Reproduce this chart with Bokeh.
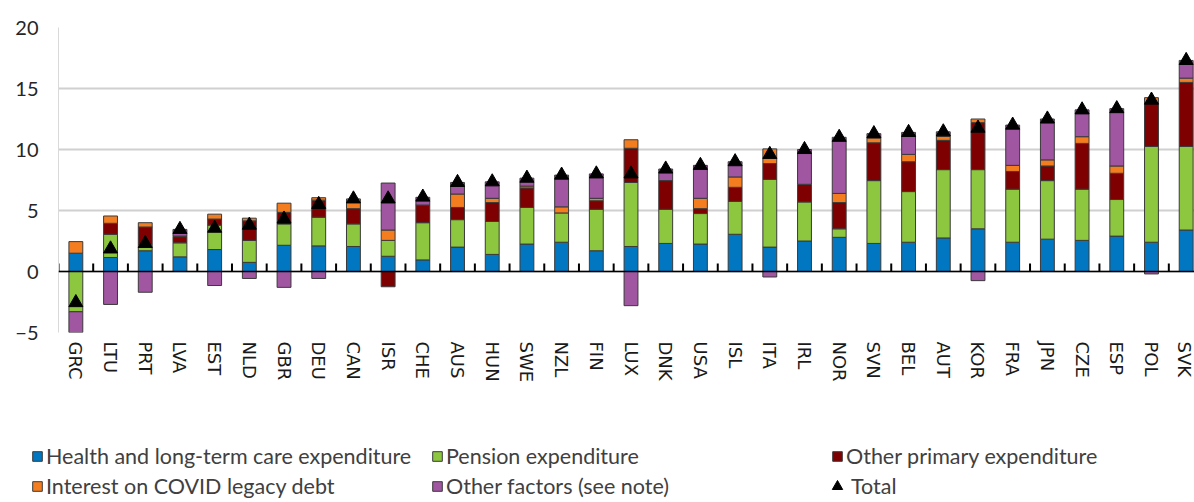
import numpy as np
from bokeh.plotting import figure
from bokeh.layouts import column
from bokeh.models import Range1d, FixedTicker, Legend, LegendItem, ColumnDataSource, Span
from bokeh.embed import file_html
from bokeh.resources import INLINE

countries = ["GRC", "LTU", "PRT", "LVA", "EST", "NLD", "GBR", "DEU", "CAN", "ISR", "CHE",
             "AUS", "HUN", "SWE", "NZL", "FIN", "LUX", "DNK", "USA", "ISL", "ITA", "IRL",
             "NOR", "SVN", "BEL", "AUT", "KOR", "FRA", "JPN", "CZE", "ESP", "POL", "SVK"]

health = [1.5, 1.15, 1.7, 1.2, 1.8, 0.75, 2.15, 2.1, 2.05, 1.25, 0.95,
          2.0, 1.4, 2.25, 2.4, 1.7, 2.05, 2.3, 2.25, 3.05, 2.0, 2.5,
          2.8, 2.3, 2.4, 2.75, 3.5, 2.4, 2.65, 2.55, 2.9, 2.4, 3.4]
pension = [-3.3, 1.9, 0.5, 1.15, 2.0, 1.8, 1.75, 2.35, 1.85, 1.3, 3.05,
           2.25, 2.7, 3.0, 2.4, 3.4, 5.25, 2.8, 2.5, 2.7, 5.55, 3.2,
           0.7, 5.15, 4.15, 5.6, 4.85, 4.35, 4.8, 4.2, 3.0, 7.85, 6.85]
other_primary = [0.0, 0.9, 1.45, 0.5, 0.5, 1.6, 0.95, 1.4, 1.25, -1.25, 1.45,
                 1.0, 1.55, 1.6, 0.0, 0.7, 2.8, 2.35, 0.4, 1.15, 1.3, 1.45,
                 2.15, 3.1, 2.45, 2.4, 3.85, 1.45, 1.2, 3.75, 2.15, 3.55, 5.25]
interest = [0.95, 0.6, 0.35, 0.05, 0.4, 0.22, 0.75, 0.2, 0.8, 0.85, 0.0,
            1.1, 0.35, 0.15, 0.5, 0.2, 0.7, 0.0, 0.85, 0.85, 1.2, 0.0,
            0.75, 0.4, 0.6, 0.35, 0.3, 0.5, 0.5, 0.55, 0.6, 0.45, 0.35]
other_factors = [-1.7, -2.7, -1.7, 0.55, -1.15, -0.57, -1.3, -0.57, 0.0, 3.85, 0.63,
                 0.95, 1.35, 0.65, 2.6, 2.0, -2.8, 0.95, 2.7, 1.25, -0.45, 2.85,
                 4.6, 0.35, 1.8, 0.35, -0.75, 3.3, 3.35, 2.2, 4.7, -0.2, 1.45]
total = [-2.55, 1.85, 2.3, 3.45, 3.55, 3.8, 4.3, 5.5, 5.95, 5.95, 6.1,
         7.3, 7.35, 7.65, 7.9, 8.0, 8.0, 8.4, 8.7, 9.0, 9.6, 10.0,
         11.0, 11.3, 11.4, 11.45, 11.75, 12.0, 12.5, 13.25, 13.35, 14.05, 17.3]

series_names = ["Health and long-term care expenditure", "Pension expenditure",
                "Other primary expenditure", "Interest on COVID legacy debt",
                "Other factors (see note)"]
series_values = [health, pension, other_primary, interest, other_factors]
colors = ["#0077C0", "#8DC63F", "#7F0000", "#F47D20", "#A056A0"]
total_name = "Total"

n = len(countries)
x = np.arange(n)
OUTLINE = "#3a3a3a"

# ---------------- chart ----------------
p = figure(frame_width=1136, frame_height=305,
           x_range=Range1d(-0.5, n - 0.76), y_range=Range1d(-5, 20),
           output_backend="svg", toolbar_location=None,
           min_border_left=58, min_border_right=0, min_border_top=27, min_border_bottom=62,
           background_fill_color="white", border_fill_color="white")
p.frame_align = False
p.outline_line_color = None
p.xgrid.grid_line_color = None
p.ygrid.grid_line_color = "#d0d0d0"
p.ygrid.grid_line_width = 2

pos = np.zeros(n)
neg = np.zeros(n)
for vals, col in zip(series_values, colors):
    v = np.array(vals, dtype=float)
    bottom = np.where(v >= 0, pos, neg)
    top = bottom + v
    pos = np.where(v >= 0, top, pos)
    neg = np.where(v < 0, top, neg)
    m = v != 0
    src = ColumnDataSource(dict(x=x[m], bottom=bottom[m], top=top[m]))
    p.vbar(x="x", bottom="bottom", top="top", width=0.4, source=src,
           fill_color=col, line_color=OUTLINE, line_width=1)

# zero line with small upward ticks at the category boundaries
p.add_layout(Span(location=0, dimension="width", line_color="black", line_width=1.5))
p.segment(x0=x - 0.5, y0=0, x1=x - 0.5, y1=0.65, line_color="black", line_width=2)

p.scatter(x=x, y=total, marker="triangle", size=14, fill_color="black", line_color="black")

xa = p.xaxis[0]
xa.ticker = FixedTicker(ticks=list(range(n)))
xa.major_label_overrides = {i: c for i, c in enumerate(countries)}
xa.major_label_orientation = "vertical"
xa.major_label_text_font = "DejaVu Sans"
xa.major_label_text_font_size = "18px"
xa.major_label_text_color = "#1a1a1a"
xa.major_label_standoff = 9
xa.major_tick_in = 0
xa.major_tick_out = 0
xa.minor_tick_in = 0
xa.minor_tick_out = 0
xa.axis_line_color = None

ya = p.yaxis[0]
ya.ticker = FixedTicker(ticks=[-5, 0, 5, 10, 15, 20])
ya.major_label_text_font = "Lato"
ya.major_label_text_font_size = "20px"
ya.major_label_text_color = "#262626"
ya.major_label_standoff = 20
ya.major_tick_in = 0
ya.major_tick_out = 0
ya.minor_tick_in = 0
ya.minor_tick_out = 0
ya.axis_line_color = "#d9d9d9"
ya.axis_line_width = 1

# ---------------- legend strip ----------------
lg = figure(width=1194, height=108, x_range=Range1d(-0.5, n - 0.76), y_range=Range1d(-5, 20),
            output_backend="svg", toolbar_location=None,
            x_axis_location=None, y_axis_location=None,
            min_border_left=0, min_border_right=0, min_border_top=0, min_border_bottom=0,
            background_fill_color="white", border_fill_color="white")
lg.frame_align = False
lg.outline_line_color = None
lg.xgrid.grid_line_color = None
lg.ygrid.grid_line_color = None

# hidden copies of the series, used only as legend keys
key_renderers = []
for vals, col in zip(series_values, colors):
    r = lg.vbar(x=x, top=vals, width=0.4, fill_color=col, line_color=OUTLINE, line_width=1)
    r.visible = False
    key_renderers.append(r)
key_total = lg.scatter(x=x, y=total, marker="triangle", fill_color="black", line_color="black")
key_total.visible = False

common = dict(orientation="horizontal", padding=0, margin=0, click_policy="none",
              label_text_font="Lato", label_text_font_size="21.5px", label_text_color="#404040",
              border_line_color=None, background_fill_alpha=0)

legend1 = Legend(items=[LegendItem(label=nm, renderers=[r]) for nm, r in zip(series_names, key_renderers)],
                 location=(31, 3), ncols=3,
                 glyph_width=12, glyph_height=12, label_height=26, label_width=381,
                 label_standoff=3, spacing=4, **common)
legend2 = Legend(items=[LegendItem(label=total_name, renderers=[key_total])],
                 location=(823, 3), ncols=1,
                 glyph_width=28, glyph_height=26, label_height=26,
                 label_standoff=0, spacing=4, **common)
lg.add_layout(legend1)
lg.add_layout(legend2)

layout = column(p, lg, spacing=0)
open("out.html", "w").write(file_html(layout, INLINE))
